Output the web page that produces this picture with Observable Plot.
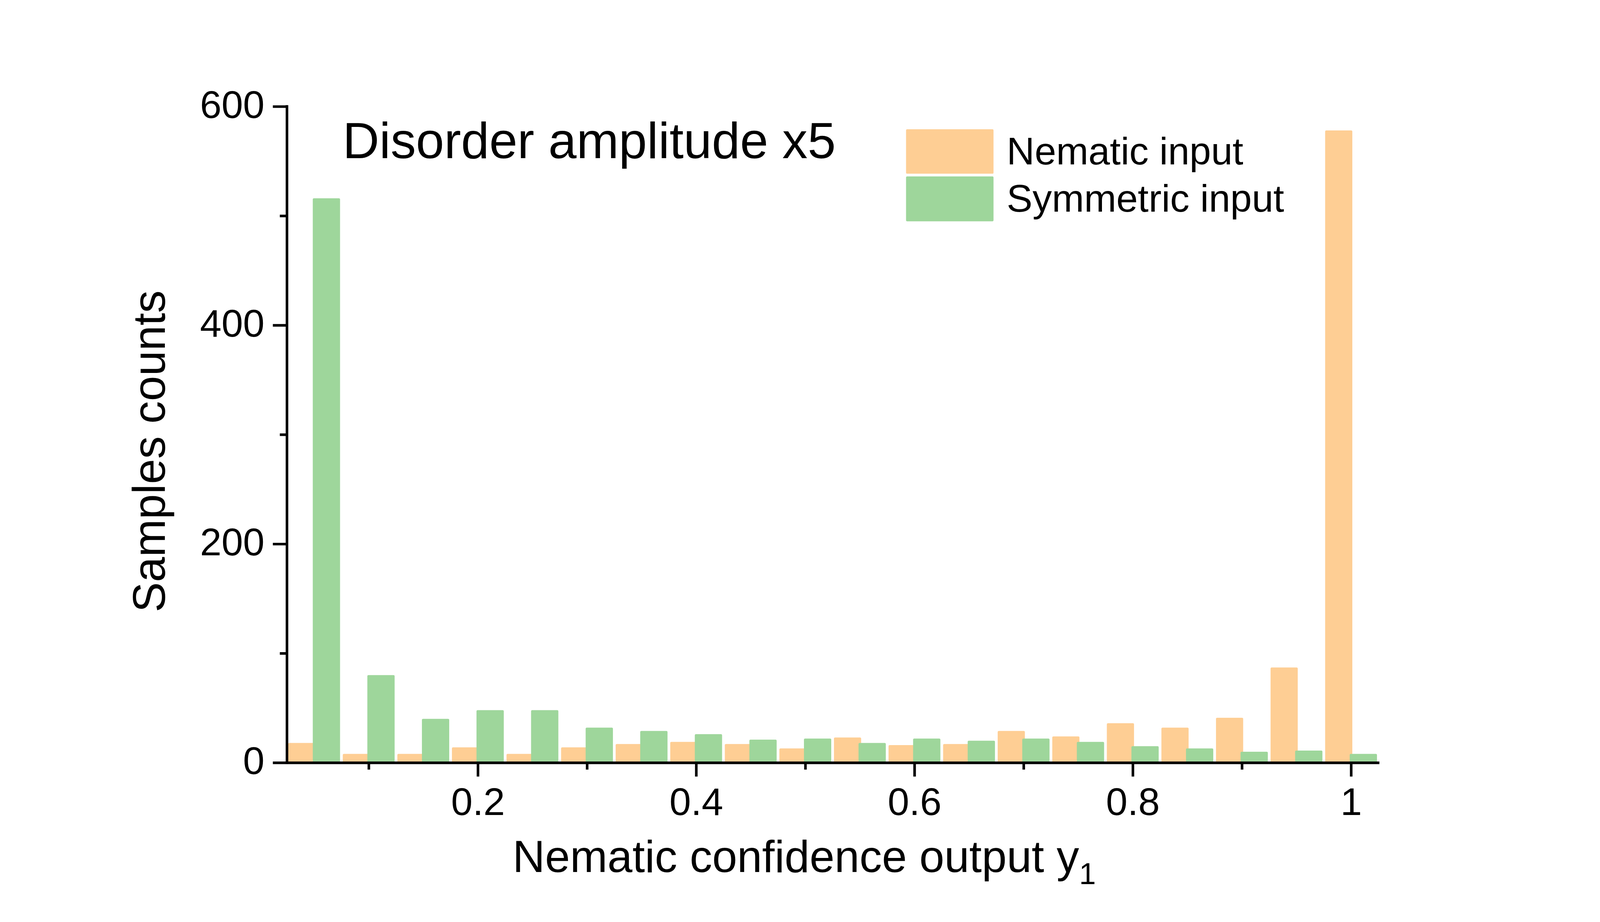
<!DOCTYPE html>
<html>
<head>
<meta charset="utf-8">
<script src="https://cdn.jsdelivr.net/npm/d3@7"></script>
<script src="https://cdn.jsdelivr.net/npm/@observablehq/plot@0.6"></script>
<style>
  html, body { margin: 0; padding: 0; background: #fff; overflow: hidden; }
  #chart svg { display: block; }
</style>
</head>
<body>
<div id="chart"></div>
<script>
// ---- data ----
const binCenters = [0.05, 0.10, 0.15, 0.20, 0.25, 0.30, 0.35, 0.40, 0.45, 0.50,
                    0.55, 0.60, 0.65, 0.70, 0.75, 0.80, 0.85, 0.90, 0.95, 1.00];
const nematicCounts   = [18, 8, 8, 14, 8, 14, 17, 19, 17, 13, 23, 16, 17, 29, 24, 36, 32, 41, 87, 578];
const symmetricCounts = [516, 80, 40, 48, 48, 32, 29, 26, 21, 22, 18, 22, 20, 22, 19, 15, 13, 10, 11, 8];
const seriesNames  = ["Nematic input", "Symmetric input"];
const seriesColors = ["#FECE94", "#9ED69B"];
const xMajorTicks = [0.2, 0.4, 0.6, 0.8, 1];
const xMinorTicks = [0.1, 0.3, 0.5, 0.7, 0.9];
const yMajorTicks = [0, 200, 400, 600];
const yMinorTicks = [100, 300, 500];
const titleText = "Disorder amplitude x5";
const xLabelText = "Nematic confidence output y";
const xLabelSub = "1";
const yLabelText = "Samples counts";

// ---- layout ----
const W = 4134, H = 2361;
const FONT = "'Liberation Sans', Arial, Helvetica, sans-serif";
const AX = 6.7;

const nemRows = binCenters.map((c, i) => ({c, v: nematicCounts[i]}));
const symRows = binCenters.map((c, i) => ({c, v: symmetricCounts[i]}));

const plot = Plot.plot({
  width: W,
  height: H,
  marginLeft: 741,
  marginRight: 570,
  marginTop: 275,
  marginBottom: 390,
  x: {domain: [0.025, 1.026], label: null},
  y: {domain: [0, 600], label: null},
  style: {fontFamily: FONT, fontSize: "100px", color: "black", background: "white"},
  marks: [
    Plot.rect(nemRows, {x1: d => d.c - 0.0237, x2: d => d.c + 0.0012, y1: 0, y2: "v", fill: seriesColors[0], rx: 3}),
    Plot.rect(symRows, {x1: d => d.c - 0.0012, x2: d => d.c + 0.0238, y1: 0, y2: "v", fill: seriesColors[1], rx: 3}),
    // axis lines
    Plot.ruleY([0], {stroke: "black", strokeWidth: AX}),
    Plot.ruleX([0.025], {y1: 0, y2: 600, stroke: "black", strokeWidth: AX, strokeLinecap: "square"}),
    // y ticks
    Plot.axisY(yMajorTicks, {tickSize: 36, strokeWidth: AX, tickFormat: () => "", label: null}),
    Plot.axisY(yMinorTicks, {tickSize: 18, strokeWidth: AX, tickFormat: () => "", label: null}),
    Plot.axisY(yMajorTicks, {tickSize: 0, tickPadding: 58, dy: -3, fontSize: 100, tickFormat: d => String(d), label: null}),
    // x ticks
    Plot.axisX(xMajorTicks, {tickSize: 36, strokeWidth: AX, tickFormat: () => "", label: null}),
    Plot.axisX(xMinorTicks, {tickSize: 18, strokeWidth: AX, tickFormat: () => "", label: null}),
    Plot.axisX(xMajorTicks, {tickSize: 0, tickPadding: 64, fontSize: 100, tickFormat: d => String(d), label: null}),
    // title
    Plot.text([titleText], {text: d => d, frameAnchor: "top-left", dx: 144, dy: 133,
      textAnchor: "start", lineAnchor: "bottom", fontSize: 131, fill: "black"}),
    // x label
    Plot.text([xLabelText], {text: d => d, frameAnchor: "bottom-left", dx: 583, dy: 282,
      textAnchor: "start", lineAnchor: "bottom", fontSize: 116, fill: "black"}),
    // y label
    Plot.text([yLabelText], {text: d => d, frameAnchor: "left", rotate: -90, dx: -316, dy: 43,
      textAnchor: "middle", lineAnchor: "bottom", fontSize: 117, fill: "black"})
  ]
});

const svg = d3.select(plot);
// subscript on x label
svg.selectAll("text").filter(function() { return this.textContent === xLabelText; })
  .append("tspan").attr("dy", 31).attr("font-size", 78).text(xLabelSub);

// legend
const legend = svg.append("g")
  .attr("font-family", FONT).attr("font-size", 100).attr("text-anchor", "start");
const legendRows = [{y: 334, h: 115, base: 425}, {y: 456, h: 116, base: 547}];
seriesNames.forEach((name, i) => {
  legend.append("rect")
    .attr("x", 2341).attr("y", legendRows[i].y)
    .attr("width", 226).attr("height", legendRows[i].h)
    .attr("rx", 3).attr("fill", seriesColors[i]);
  legend.append("text")
    .attr("x", 2601).attr("y", legendRows[i].base)
    .attr("text-anchor", "start")
    .attr("fill", "black").text(name);
});

document.getElementById("chart").appendChild(plot);
</script>
</body>
</html>
